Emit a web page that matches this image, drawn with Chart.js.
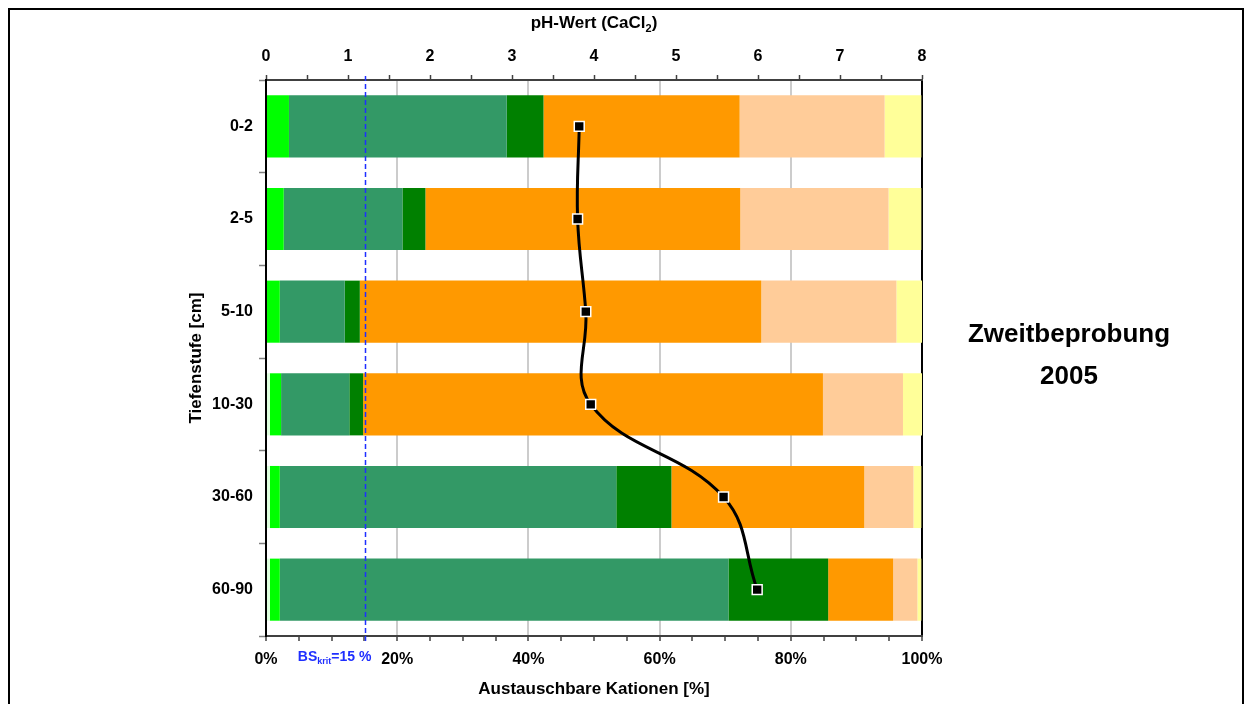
<!DOCTYPE html>
<html>
<head>
<meta charset="utf-8">
<script src="https://cdn.jsdelivr.net/npm/chart.js@4.4.1/dist/chart.umd.min.js"></script>
<style>
  html, body { margin: 0; padding: 0; background: #fff; }
  #wrap { position: relative; width: 1247px; height: 704px; }
</style>
</head>
<body>
<div id="wrap"><canvas id="chart" width="1247" height="704"></canvas></div>
<script>
// Tiefenstufen (cm)
const depths = ['0-2', '2-5', '5-10', '10-30', '30-60', '60-90'];

// Anteile der austauschbaren Kationen (%)
const na = [0, 0, 0, 0.6, 0.6, 0.6];
const k  = [3.5, 2.7, 2.1, 1.7, 1.5, 1.5];
const ca = [33.2, 18.1, 9.9, 10.4, 51.3, 68.4];
const mg = [5.6, 3.5, 2.3, 2.1, 8.4, 15.2];
const al = [29.9, 48.0, 61.2, 70.1, 29.4, 9.9];
const fe = [22.1, 22.6, 20.6, 12.2, 7.5, 3.7];
const h  = [5.6, 5.0, 3.9, 2.9, 1.2, 0.6];

// pH-Wert (CaCl2)
const ph = [3.82, 3.80, 3.90, 3.96, 5.58, 5.99];

const bsKrit = 15;

Chart.defaults.font.family = '"Liberation Sans", Arial, sans-serif';
Chart.defaults.color = '#000';

const bold = (size) => ({ size: size, weight: 'bold' });

function barSet(label, data, color) {
  return {
    type: 'bar', label: label, data: data, backgroundColor: color,
    xAxisID: 'x', yAxisID: 'y', indexAxis: 'y', order: 1,
    barPercentage: 0.67, categoryPercentage: 1.0, borderWidth: 0
  };
}

const decor = {
  id: 'decor',
  beforeDraw(chart) {
    const ctx = chart.ctx;
    ctx.save();
    ctx.fillStyle = '#fff';
    ctx.fillRect(0, 0, chart.width, chart.height);
    ctx.restore();
  },
  afterDatasetsDraw(chart) {
    const { ctx, chartArea, scales } = chart;
    const xp = Math.round(scales.x.getPixelForValue(bsKrit)) + 1.5;
    ctx.save();
    ctx.strokeStyle = '#1f2fff';
    ctx.lineWidth = 1.5;
    ctx.setLineDash([5, 3]);
    ctx.beginPath();
    ctx.moveTo(xp, chartArea.top - 4);
    ctx.lineTo(xp, chartArea.bottom + 8);
    ctx.stroke();
    ctx.restore();
  },
  afterDraw(chart) {
    const { ctx, chartArea, scales } = chart;
    ctx.save();
    // outer frame
    ctx.strokeStyle = '#000';
    ctx.lineWidth = 2;
    ctx.strokeRect(9, 9, 1234, 720);

    // top axis title with subscript
    ctx.fillStyle = '#000';
    ctx.textBaseline = 'alphabetic';
    const f1 = 'bold 17px "Liberation Sans", Arial, sans-serif';
    const f2 = 'bold 11px "Liberation Sans", Arial, sans-serif';
    const parts = [['pH-Wert (CaCl', f1, 0], ['2', f2, 4], [')', f1, 0]];
    let w = 0;
    parts.forEach(p => { ctx.font = p[1]; w += ctx.measureText(p[0]).width; });
    let x = (chartArea.left + chartArea.right) / 2 - w / 2;
    parts.forEach(p => {
      ctx.font = p[1];
      ctx.textAlign = 'left';
      ctx.fillText(p[0], x, 28 + p[2]);
      x += ctx.measureText(p[0]).width;
    });

    // BS krit label
    const xp = scales.x.getPixelForValue(bsKrit);
    const b1 = 'bold 14px "Liberation Sans", Arial, sans-serif';
    const b2 = 'bold 9px "Liberation Sans", Arial, sans-serif';
    const bs = [['BS', b1, 0], ['krit', b2, 3], ['=' + bsKrit + ' %', b1, 0]];
    w = 0;
    bs.forEach(p => { ctx.font = p[1]; w += ctx.measureText(p[0]).width; });
    x = xp + 7 - w;
    ctx.fillStyle = '#1f2fff';
    bs.forEach(p => {
      ctx.font = p[1];
      ctx.fillText(p[0], x, chartArea.bottom + 25 + p[2]);
      x += ctx.measureText(p[0]).width;
    });

    // side note
    ctx.fillStyle = '#000';
    ctx.textAlign = 'center';
    ctx.font = 'bold 26px "Liberation Sans", Arial, sans-serif';
    ctx.fillText('Zweitbeprobung', 1069, 342);
    ctx.fillText('2005', 1069, 384);
    ctx.restore();
  }
};

new Chart(document.getElementById('chart'), {
  data: {
    labels: depths,
    datasets: [
      {
        type: 'line', label: 'pH-Wert', data: ph, xAxisID: 'x2', yAxisID: 'y', indexAxis: 'y', order: 0,
        borderColor: '#000', borderWidth: 3, tension: 0.4, fill: false,
        pointStyle: 'rect', pointRadius: 7, pointBackgroundColor: '#000',
        pointBorderColor: '#fff', pointBorderWidth: 1.5
      },
      barSet('Na', na, '#ddffdd'),
      barSet('K', k, '#00ff00'),
      barSet('Ca', ca, '#339966'),
      barSet('Mg', mg, '#008000'),
      barSet('Al', al, '#ff9900'),
      barSet('Fe', fe, '#ffcc99'),
      barSet('H', h, '#ffff99')
    ]
  },
  options: {
    indexAxis: 'y',
    responsive: false,
    animation: false,
    layout: { padding: { left: 180, right: 325, top: 10, bottom: 0 } },
    plugins: { legend: { display: false }, tooltip: { enabled: false } },
    scales: {
      x: {
        position: 'bottom', stacked: true, min: 0, max: 100,
        afterFit: s => { s.height = 68; },
        ticks: {
          stepSize: 5, autoSkip: false, maxRotation: 0, padding: 9, color: '#000', font: bold(16),
          callback: v => v % 20 === 0 ? v + '%' : ''
        },
        grid: {
          color: c => {
            const v = c.tick ? c.tick.value : 0;
            if (v === 100) return '#000';
            return (v % 20 === 0 && v > 0) ? '#cccccc' : 'rgba(0,0,0,0)';
          },
          lineWidth: 2,
          tickColor: '#404040', tickLength: 5, tickWidth: 1.5
        },
        border: { color: '#404040', width: 2 },
        title: {
          display: true, text: 'Austauschbare Kationen [%]', color: '#000', font: bold(17),
          padding: { top: 0, bottom: 4 }
        }
      },
      x2: {
        position: 'top', min: 0, max: 8,
        afterFit: s => { s.height = 70; },
        ticks: {
          stepSize: 0.5, autoSkip: false, maxRotation: 0, padding: 9, color: '#000', font: bold(16),
          callback: v => Number.isInteger(v) ? v : ''
        },
        grid: { drawOnChartArea: false, tickColor: '#404040', tickLength: 5, tickWidth: 1.5 },
        border: { color: '#404040', width: 2 }
      },
      y: {
        stacked: true, offset: true,
        afterFit: s => { s.width = 86; },
        ticks: { color: '#000', font: bold(16), padding: 6 },
        grid: { offset: true, drawOnChartArea: false, tickColor: '#808080', tickLength: 7, tickWidth: 1.5 },
        border: { color: '#000', width: 2 },
        title: {
          display: true, text: 'Tiefenstufe [cm]', color: '#000', font: bold(17),
          padding: { top: 6, bottom: 0 }
        }
      }
    }
  },
  plugins: [decor]
});
</script>
</body>
</html>
